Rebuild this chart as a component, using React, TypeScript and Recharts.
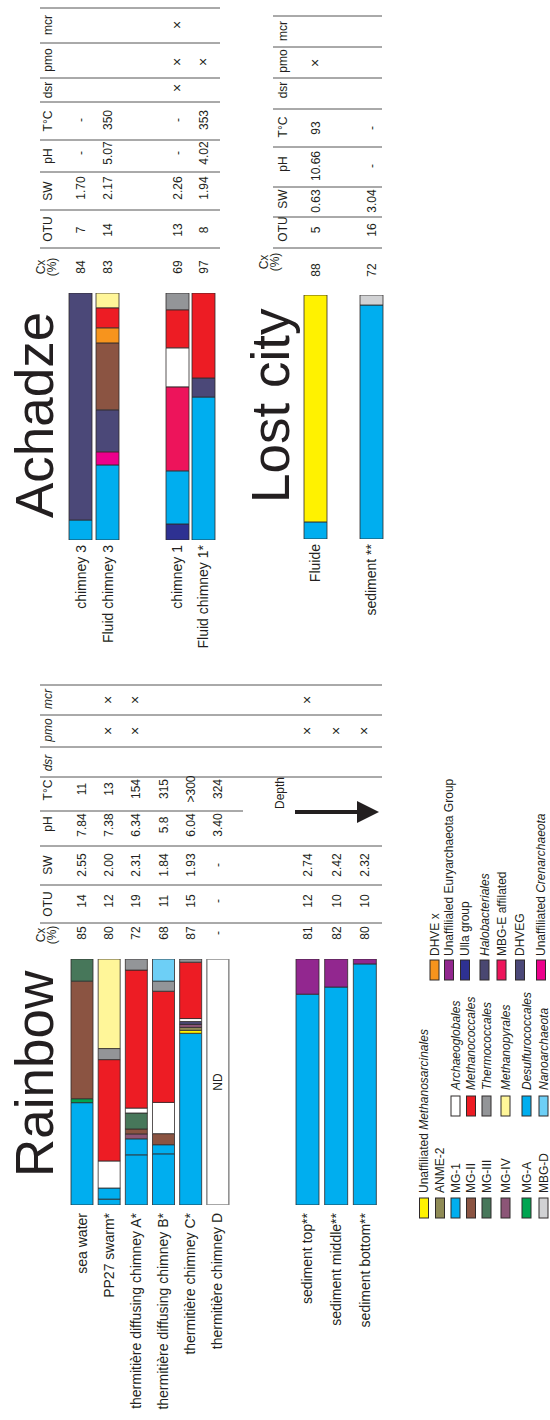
import React from 'react';
import { BarChart, Bar, XAxis, YAxis, LabelList } from 'recharts';

// landscape canvas, rotated -90deg into the 550x1420 page
const W = 1420;
const H = 550;
const FONT = '"Liberation Sans", Arial, Helvetica, sans-serif';
const INK = '#231f20';

// ---- taxa ----
const legendCol1 = ['Unaffiliated Methanosarcinales', 'ANME-2', 'MG-1', 'MG-II', 'MG-III', 'MG-IV', 'MG-A', 'MBG-D'];
const legendCol2 = ['Archaeoglobales', 'Methanococcales', 'Thermococcales', 'Methanopyrales', 'Desulfurococcales', 'Nanoarchaeota'];
const legendCol3 = ['DHVE x', 'Unaffilialed Euryarchaeota Group', 'Ulla group', 'Halobacteriales', 'MBG-E affilated', 'DHVEG', 'Unaffiliated Crenarchaeota'];
const italicWords = ['Methanosarcinales', 'Archaeoglobales', 'Methanococcales', 'Thermococcales', 'Methanopyrales', 'Desulfurococcales', 'Nanoarchaeota', 'Halobacteriales', 'Crenarchaeota'];

// order of the segments from the sample label outwards
const stackOrder = [
  'Ulla group', 'MG-1', 'Desulfurococcales', 'MG-A', 'Unaffiliated Crenarchaeota', 'MBG-E affilated',
  'Unaffiliated Methanosarcinales', 'ANME-2', 'MG-IV', 'Halobacteriales', 'DHVEG', 'MG-II', 'MG-III',
  'Archaeoglobales', 'DHVE x', 'Methanococcales', 'Thermococcales', 'Nanoarchaeota', 'Methanopyrales',
  'Unaffilialed Euryarchaeota Group', 'MBG-D', 'ND',
];

const COLORS: Record<string, string> = {
  'Unaffiliated Methanosarcinales': '#fff200',
  'ANME-2': '#8f8b56',
  'MG-1': '#00aeef',
  'MG-II': '#8b5442',
  'MG-III': '#47775a',
  'MG-IV': '#8c5577',
  'MG-A': '#00a551',
  'MBG-D': '#d1d2d4',
  Archaeoglobales: '#ffffff',
  Methanococcales: '#ed1c24',
  Thermococcales: '#939598',
  Methanopyrales: '#fff699',
  Desulfurococcales: '#00aeef',
  Nanoarchaeota: '#6dcff6',
  'DHVE x': '#f7941d',
  'Unaffilialed Euryarchaeota Group': '#92278f',
  'Ulla group': '#2e3192',
  Halobacteriales: '#4a4771',
  'MBG-E affilated': '#ed145b',
  DHVEG: '#4b4878',
  'Unaffiliated Crenarchaeota': '#ec008c',
  ND: '#ffffff',
};

// ---- Rainbow ----
const rainbowSamples = ['sea water', 'PP27 swarm*', 'thermitière diffusing chimney A*', 'thermitière diffusing chimney B*', 'thermitière chimney C*', 'thermitière chimney D'];
const seaWater = { 'MG-1': 41.6, 'MG-A': 1.6, 'MG-II': 47.8, 'MG-III': 9.0 };
const pp27Swarm = { 'MG-1': 2.4, Desulfurococcales: 4.5, Archaeoglobales: 11.0, Methanococcales: 41.2, Thermococcales: 4.5, Methanopyrales: 36.4 };
const chimneyA = { 'MG-1': 20.4, Desulfurococcales: 6.5, 'MG-IV': 2.0, 'MG-II': 2.0, 'MG-III': 6.5, Archaeoglobales: 2.0, Methanococcales: 56.1, Thermococcales: 4.5 };
const chimneyB = { 'MG-1': 20.8, Desulfurococcales: 3.7, 'MG-II': 4.5, Archaeoglobales: 12.7, Methanococcales: 45.2, Thermococcales: 4.1, Nanoarchaeota: 9.0 };
const chimneyC = { 'MG-1': 69.8, 'Unaffiliated Methanosarcinales': 1.2, 'ANME-2': 1.2, 'MG-IV': 1.2, Halobacteriales: 1.2, Archaeoglobales: 1.2, Methanococcales: 22.9, Thermococcales: 1.3 };
const chimneyD = { ND: 100, ndLabel: 'ND' };
const rainbowTable = [
  ['85', '14', '2.55', '7.84', '11', '', '', ''],
  ['80', '12', '2.00', '7.38', '13', '', '×', '×'],
  ['72', '19', '2.31', '6.34', '154', '', '×', '×'],
  ['68', '11', '1.84', '5.8', '315', '', '', ''],
  ['87', '15', '1.93', '6.04', '>300', '', '', ''],
  ['-', '-', '-', '3.40', '324', '', '', ''],
];

const sedimentSamples = ['sediment top**', 'sediment middle**', 'sediment bottom**'];
const sedimentTop = { 'MG-1': 85.7, 'Unaffilialed Euryarchaeota Group': 14.3 };
const sedimentMiddle = { 'MG-1': 88.6, 'Unaffilialed Euryarchaeota Group': 11.4 };
const sedimentBottom = { 'MG-1': 98.0, 'Unaffilialed Euryarchaeota Group': 2.0 };
const sedimentTable = [
  ['81', '12', '2.74', '', '', '', '×', '×'],
  ['82', '10', '2.42', '', '', '', '×', ''],
  ['80', '10', '2.32', '', '', '', '×', ''],
];

// ---- Achadze ----
const achadze3Samples = ['chimney 3', 'Fluid chimney 3'];
const chimney3 = { 'MG-1': 8.1, DHVEG: 91.9 };
const fluidChimney3 = { 'MG-1': 30.4, 'Unaffiliated Crenarchaeota': 5.3, DHVEG: 17.0, 'MG-II': 27.1, 'DHVE x': 6.1, Methanococcales: 8.1, Methanopyrales: 6.0 };
const achadze3Table = [
  ['84', '7', '1.70', '-', '-', '', '', ''],
  ['83', '14', '2.17', '5.07', '350', '', '', ''],
];
const achadze1Samples = ['chimney 1', 'Fluid chimney 1*'];
const chimney1 = { 'Ulla group': 6.5, 'MG-1': 21.5, 'MBG-E affilated': 34.0, Archaeoglobales: 15.8, Methanococcales: 15.4, Thermococcales: 6.8 };
const fluidChimney1 = { 'MG-1': 57.9, DHVEG: 7.7, Methanococcales: 34.4 };
const achadze1Table = [
  ['69', '13', '2.26', '-', '-', '×', '×', '×'],
  ['97', '8', '1.94', '4.02', '353', '', '×', ''],
];

// ---- Lost city ----
const lostSamples = ['Fluide', 'sediment **'];
const fluide = { 'MG-1': 7.0, 'Unaffiliated Methanosarcinales': 93.0 };
const lostSediment = { 'MG-1': 95.9, 'MBG-D': 4.1 };
const lostTable = [
  ['88', '5', '0.63', '10.66', '93', '', '×', ''],
  ['72', '16', '3.04', '-', '-', '', '', ''],
];

const headerLabels = ['OTU', 'SW', 'pH', 'T°C', 'dsr', 'pmo', 'mcr'];

// column positions (landscape x)
const rainbowCols = [487, 519, 555, 595, 631, 658, 689, 720];
const achadzeCols = [1153, 1190, 1232, 1267, 1300, 1332, 1358, 1395];
const lostCols = [1150, 1190, 1219, 1254, 1292, 1327, 1357, 1389];

function RowTick(props: any) {
  const { y, payload, cells, cols, labelX } = props;
  const name = payload.value as string;
  const row: string[] = cells[name] || [];
  return (
    <g fontFamily={FONT} fill={INK}>
      <text x={labelX} y={y} dy={5} textAnchor="end" fontSize={14} fill={INK}>{name}</text>
      {row.map((c, i) =>
        c ? (
          <text key={i} x={cols[i]} y={y} dy={4.5} textAnchor="middle" fontSize={c === '×' ? 14 : 12} fill={INK}>
            {c}
          </text>
        ) : null,
      )}
    </g>
  );
}

function Panel(props: {
  top: number; mt: number; plotH: number; mb: number;
  samples: string[]; mixes: Record<string, any>[]; table: string[][]; cols: number[];
  plotL: number; plotR: number; labelX: number; barSize: number;
}) {
  const { top, mt, plotH, mb, samples, mixes, table, cols, plotL, plotR, labelX, barSize } = props;
  const data = samples.map((s, i) => {
    const row: Record<string, any> = { sample: s };
    stackOrder.forEach((k) => { row[k] = mixes[i][k] ?? 0; });
    if (mixes[i].ndLabel) row.ndLabel = mixes[i].ndLabel;
    return row;
  });
  const cells = Object.fromEntries(samples.map((s, i) => [s, table[i]]));
  return (
    <div style={{ position: 'absolute', left: 0, top }}>
      <BarChart
        width={W}
        height={mt + plotH + mb}
        data={data}
        layout="vertical"
        margin={{ top: mt, right: W - plotR, bottom: mb, left: 0 }}
        barCategoryGap={0}
      >
        <XAxis type="number" domain={[0, 100]} allowDataOverflow hide />
        <YAxis
          type="category"
          dataKey="sample"
          width={plotL}
          interval={0}
          axisLine={false}
          tickLine={false}
          tick={(p: any) => <RowTick {...p} cells={cells} cols={cols} labelX={labelX} />}
        />
        {stackOrder.map((k) => (
          <Bar
            key={k}
            dataKey={k}
            stackId="s"
            barSize={barSize}
            fill={COLORS[k]}
            stroke={k === 'ND' ? '#8a8a8a' : '#2f2a2a'}
            strokeWidth={k === 'ND' ? 1.5 : 0.8}
            isAnimationActive={false}
          >
            {k === 'ND' && <LabelList dataKey="ndLabel" position="center" fill={INK} fontSize={12} fontFamily={FONT} />}
          </Bar>
        ))}
      </BarChart>
    </div>
  );
}

function TableHead({ xs, cxX, cxY, pctY, baseY, lines, y0, y1, shortLine, italic }: any) {
  return (
    <g fontFamily={FONT} fill={INK} fontSize={12}>
      <text x={cxX} y={cxY} textAnchor="middle">Cx</text>
      <text x={cxX} y={pctY} textAnchor="middle">(%)</text>
      {headerLabels.map((h, i) => (
        <text key={h} x={xs[i]} y={baseY} textAnchor="middle" fontStyle={italic && i >= 4 ? 'italic' : 'normal'}>{h}</text>
      ))}
      {lines.map((x: number, i: number) => (
        <line key={i} x1={x} x2={x} y1={y0} y2={shortLine === i ? 243 : y1} stroke="#555" strokeWidth={1} />
      ))}
    </g>
  );
}

function LegendLabel({ x, y, name }: { x: number; y: number; name: string }) {
  const words = name.split(' ');
  return (
    <text x={x} y={y} fontFamily={FONT} fontSize={12} fill={INK}>
      {words.map((w, i) => (
        <tspan key={i} fontStyle={italicWords.includes(w) ? 'italic' : 'normal'}>{w + (i < words.length - 1 ? ' ' : '')}</tspan>
      ))}
    </text>
  );
}

const legendY1 = [424, 440, 455.5, 471, 486.5, 505.5, 526.5, 543.5];
const legendY2 = [455.5, 471, 486.5, 505.5, 526.5, 543.5];
const legendY3 = [434.5, 449, 465, 484.5, 501.5, 520, 541];

function LegendColumn({ names, ys, sx, tx }: { names: string[]; ys: number[]; sx: number; tx: number }) {
  return (
    <g>
      {names.map((n, i) => (
        <g key={n}>
          <rect x={sx} y={ys[i] - 4.5} width={20} height={9} fill={COLORS[n]} stroke="#2f2a2a" strokeWidth={1} />
          <LegendLabel x={tx} y={ys[i] + 4} name={n} />
        </g>
      ))}
    </g>
  );
}

export default function App() {
  return (
    <div style={{ position: 'absolute', left: 0, top: 0, width: 550, height: 1420, overflow: 'hidden', background: '#fff' }}>
      <div
        style={{
          position: 'absolute', left: 0, top: 0, width: W, height: H,
          transformOrigin: '0 0', transform: 'translateY(1420px) rotate(-90deg)',
        }}
      >
        <svg width={W} height={H} style={{ position: 'absolute', left: 0, top: 0 }}>
          <g fontFamily={FONT} fill={INK} fontSize={53}>
            <text x={243} y={53}>Rainbow</text>
            <text x={902} y={53}>Achadze</text>
            <text x={917} y={289}>Lost city</text>
          </g>
          <TableHead
            xs={[516, 555, 596, 630, 657, 690, 721]} cxX={485} cxY={45} pctY={56} baseY={52}
            lines={[497, 535, 574, 609, 643, 673, 705, 735]} y0={40} y1={382} shortLine={3} italic
          />
          <TableHead
            xs={[1191, 1229, 1264, 1299, 1330, 1360, 1395]} cxX={1153} cxY={45} pctY={56} baseY={52}
            lines={[1172, 1210, 1248, 1280, 1318, 1342, 1377, 1412]} y0={40} y1={220}
          />
          <TableHead
            xs={[1191, 1221, 1256, 1293, 1330, 1359, 1389]} cxX={1158} cxY={268} pctY={279} baseY={287}
            lines={[1172, 1203, 1233, 1273, 1311, 1342, 1373, 1404]} y0={273} y1={382}
          />
          <text x={627} y={284} textAnchor="middle" fontFamily={FONT} fontSize={12} fill={INK}>Depth</text>
          <line x1={608} x2={608} y1={295} y2={359} stroke={INK} strokeWidth={4} />
          <polygon points="597,357 619,357 608,379" fill={INK} />
          <LegendColumn names={legendCol1} ys={legendY1} sx={202} tx={227} />
          <LegendColumn names={legendCol2} ys={legendY2} sx={304} tx={330} />
          <LegendColumn names={legendCol3} ys={legendY3} sx={440} tx={464} />
        </svg>

        <Panel top={60} mt={8} plotH={163} mb={9} samples={rainbowSamples}
          mixes={[seaWater, pp27Swarm, chimneyA, chimneyB, chimneyC, chimneyD]} table={rainbowTable}
          cols={rainbowCols} plotL={215} plotR={461} labelX={207} barSize={22} />
        <Panel top={286} mt={7} plotH={86} mb={7} samples={sedimentSamples}
          mixes={[sedimentTop, sedimentMiddle, sedimentBottom]} table={sedimentTable}
          cols={rainbowCols} plotL={215} plotR={461} labelX={207} barSize={23} />
        <Panel top={58} mt={9} plotH={54} mb={8} samples={achadze3Samples}
          mixes={[chimney3, fluidChimney3]} table={achadze3Table}
          cols={achadzeCols} plotL={880} plotR={1127} labelX={875} barSize={23} />
        <Panel top={156} mt={8} plotH={52} mb={8} samples={achadze1Samples}
          mixes={[chimney1, fluidChimney1]} table={achadze1Table}
          cols={achadzeCols} plotL={880} plotR={1127} labelX={875} barSize={23} />
        <Panel top={278} mt={9} plotH={112} mb={8} samples={lostSamples}
          mixes={[fluide, lostSediment]} table={lostTable}
          cols={lostCols} plotL={881} plotR={1125} labelX={876} barSize={23} />
      </div>
    </div>
  );
}
